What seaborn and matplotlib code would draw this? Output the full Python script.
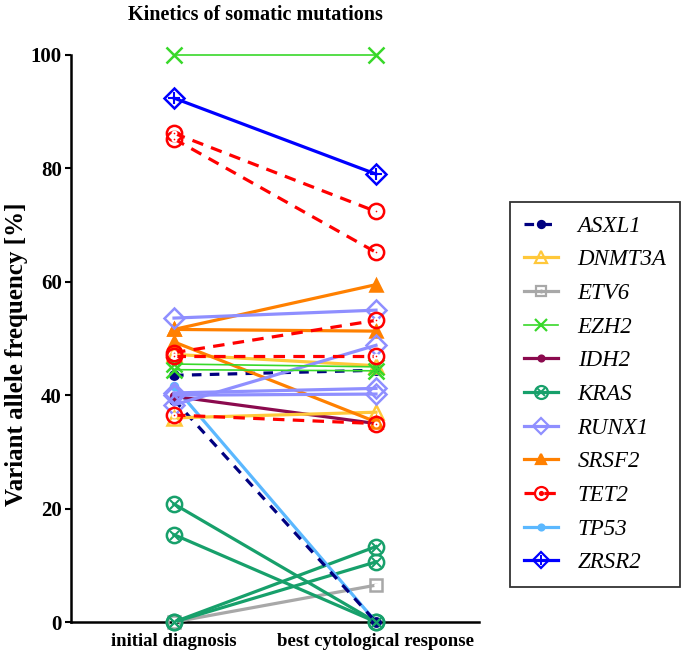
import matplotlib
matplotlib.use("Agg")
import matplotlib.pyplot as plt
import seaborn as sns
import pandas as pd
from matplotlib.lines import Line2D

# ---- data ----
stages = ["initial diagnosis", "best cytological response"]
genes = ["ASXL1", "DNMT3A", "ETV6", "EZH2", "IDH2", "KRAS", "RUNX1", "SRSF2", "TET2", "TP53", "ZRSR2"]

asxl1_init = [43.5, 39.2]
asxl1_best = [44.4, 0.0]
dnmt3a_init = [47.2, 36.0]
dnmt3a_best = [45.2, 37.0]
etv6_init = [0.0]
etv6_best = [6.5]
ezh2_init = [100.0, 45.5, 44.5]
ezh2_best = [100.0, 45.0, 44.3]
idh2_init = [39.8]
idh2_best = [35.0]
kras_init = [20.8, 15.4, 0.0, 0.0]
kras_best = [0.0, 0.0, 13.3, 10.6]
runx1_init = [53.6, 38.3, 40.4, 40.0]
runx1_best = [55.0, 48.8, 41.2, 40.2]
srsf2_init = [51.6, 51.6, 49.4]
srsf2_best = [59.5, 51.3, 35.3]
tet2_init = [86.2, 85.2, 47.5, 47.0, 36.5]
tet2_best = [72.4, 65.2, 53.2, 47.0, 35.0]
tp53_init = [41.6]
tp53_best = [0.0]
zrsr2_init = [92.4]
zrsr2_best = [79.0]

values = {
    "ASXL1": (asxl1_init, asxl1_best),
    "DNMT3A": (dnmt3a_init, dnmt3a_best),
    "ETV6": (etv6_init, etv6_best),
    "EZH2": (ezh2_init, ezh2_best),
    "IDH2": (idh2_init, idh2_best),
    "KRAS": (kras_init, kras_best),
    "RUNX1": (runx1_init, runx1_best),
    "SRSF2": (srsf2_init, srsf2_best),
    "TET2": (tet2_init, tet2_best),
    "TP53": (tp53_init, tp53_best),
    "ZRSR2": (zrsr2_init, zrsr2_best),
}

rows = []
for g in genes:
    ini, best = values[g]
    for i, (a, b) in enumerate(zip(ini, best)):
        rows.append(dict(gene=g, pair=i, stage=0, vaf=a))
        rows.append(dict(gene=g, pair=i, stage=1, vaf=b))
df = pd.DataFrame(rows)

# ---- styles ----
styles = {
    "ASXL1": dict(color="#000080", ls=(0, (3.0, 2.6)), lw=2.3, marker="o", ms=6, mfc="#000080", inner=None),
    "DNMT3A": dict(color="#FFC83A", ls="-", lw=2.3, marker="^", ms=10, mfc="none", inner=None),
    "ETV6": dict(color="#A8A8A8", ls="-", lw=2.3, marker="s", ms=9, mfc="none", inner=(".", 12)),
    "EZH2": dict(color="#38D82A", ls="-", lw=1.2, marker="x", ms=11, mfc="none", inner=None),
    "IDH2": dict(color="#8B0A4E", ls="-", lw=2.3, marker="o", ms=5, mfc="#8B0A4E", inner=None),
    "KRAS": dict(color="#17A06B", ls="-", lw=2.3, marker="o", ms=11, mfc="none", inner=("x", 45)),
    "RUNX1": dict(color="#8F8FFF", ls="-", lw=2.3, marker="D", ms=10, mfc="none", inner=None),
    "SRSF2": dict(color="#FF8000", ls="-", lw=2.3, marker="^", ms=9, mfc="#FF8000", inner=None),
    "TET2": dict(color="#FF0000", ls=(0, (3.6, 2.6)), lw=2.3, marker="o", ms=11, mfc="none", inner=(".", 30)),
    "TP53": dict(color="#5BB8FF", ls="-", lw=2.3, marker="o", ms=5, mfc="#5BB8FF", inner=None),
    "ZRSR2": dict(color="#0000FF", ls="-", lw=2.3, marker="D", ms=10, mfc="none", inner=("+", 70)),
}

plt.rcParams["font.family"] = ["Liberation Serif", "DejaVu Serif"]

fig = plt.figure(figsize=(6.85, 6.56), dpi=100)
ax = fig.add_axes([71 / 685, 1 - 622 / 656, (479 - 71) / 685, (622 - 55) / 656])

draw_order = ["ETV6", "KRAS", "TP53", "ASXL1", "IDH2", "DNMT3A", "SRSF2", "RUNX1", "EZH2", "TET2", "ZRSR2"]
for g in draw_order:
    st = styles[g]
    sub = df[df.gene == g]
    sns.lineplot(data=sub, x="stage", y="vaf", units="pair", estimator=None, ax=ax,
                 color=st["color"], linestyle=st["ls"], linewidth=st["lw"],
                 marker=st["marker"], markersize=st["ms"], markerfacecolor=st["mfc"],
                 markeredgecolor=st["color"], markeredgewidth=1.8, clip_on=False,
                 legend=False, zorder=3)
    if st["inner"] is not None:
        m, s = st["inner"]
        sns.scatterplot(data=sub, x="stage", y="vaf", ax=ax, marker=m, s=s,
                        color=st["color"], linewidth=1.5, clip_on=False,
                        legend=False, zorder=4)

ax.set_xlim(-0.51, 1.51)
ax.set_ylim(0, 100)
ax.set_xticks([0, 1])
ax.set_xticklabels(stages, fontsize=13.5, fontweight="bold")
ax.set_yticks([0, 20, 40, 60, 80, 100])
ax.set_yticklabels(["0", "20", "40", "60", "80", "100"], fontsize=15, fontweight="bold")
ax.set_xlabel("")
ax.set_ylabel("")
for side in ["top", "right"]:
    ax.spines[side].set_visible(False)
for side in ["left", "bottom"]:
    ax.spines[side].set_linewidth(1.8)
    ax.spines[side].set_color("black")
ax.tick_params(axis="y", direction="out", length=4.5, width=1.5, pad=2)
ax.tick_params(axis="x", direction="out", length=0, width=1.5, pad=8)

fig.text(255 / 685, 1 - 15 / 656, "Kinetics of somatic mutations", ha="center", va="center",
         fontsize=14.5, fontweight="bold")
fig.text(17 / 685, 1 - 354 / 656, "Variant allele frequency [%]", ha="center", va="center",
         rotation=90, fontsize=18, fontweight="bold")

# legend
handles = []
for g in genes:
    st = styles[g]
    base = Line2D([0], [0], color=st["color"], linestyle=st["ls"], linewidth=st["lw"],
                  marker=st["marker"], markersize=st["ms"] * 0.85, markerfacecolor=st["mfc"],
                  markeredgecolor=st["color"], markeredgewidth=1.6)
    if st["inner"] is not None:
        m, s = st["inner"]
        inner = Line2D([0], [0], linestyle="none", marker=m, markersize=(s ** 0.5) * 0.85,
                       color=st["color"], markeredgewidth=1.4)
        handles.append((base, inner))
    else:
        handles.append(base)
leg = fig.legend(handles, genes, loc="upper left", bbox_to_anchor=(510 / 685, 1 - 202 / 656),
                 borderaxespad=0, frameon=True, fancybox=False, edgecolor="black",
                 prop=dict(family="Liberation Serif", style="italic", size=16.5),
                 handlelength=1.5, handletextpad=0.85, labelspacing=0.55,
                 borderpad=0.6)
leg.get_frame().set_linewidth(1.3)

fig.savefig("out.png", dpi=100)
